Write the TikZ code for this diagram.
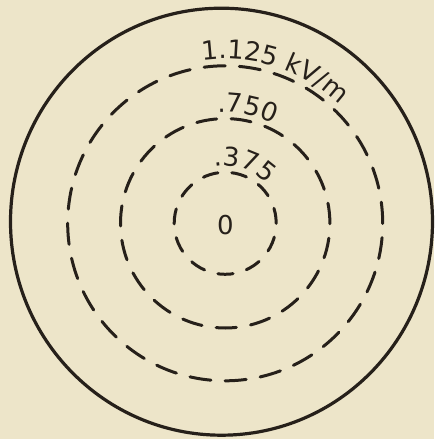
\documentclass[tikz,border=0pt]{standalone}
\usepackage{fontspec}
\usetikzlibrary{decorations.text}
\newfontfamily\labelfont{DejaVu Sans}
\definecolor{paper}{RGB}{237,229,201}
\definecolor{ink}{RGB}{38,32,26}
\begin{document}
\begin{tikzpicture}[
        x=0.5pt, y=0.5pt,
        contour/.style={ink, line width=1.5pt, line cap=round},
        along/.style={decorate, decoration={text along path, text align=center,
            text={|\labelfont\fontsize{13}{13}\selectfont\color{ink}|#1}}},
        ]
        % Background
        \fill[paper] (-225.2,-215.7) rectangle (208.8,223.3);

        % Outer boundary
        \draw[ink, line width=1.6pt] (-3.7,1.6) ellipse [x radius=211, y radius=213.5];

        % Field contours
        \draw[contour, dash pattern=on 7.6pt off 6.96pt] (0,0) circle [radius=51];
        \draw[contour, dash pattern=on 10.1pt off 7.2pt] (0,0) circle [radius=104.7];
        \draw[contour, dash pattern=on 10.6pt off 7.07pt] (0,0) circle [radius=157.5];

        % Labels
        \path[along={.375}] (127:57.5) arc (127:17:57.5);
        \path[along={.750}] (134:111) arc (134:24:111);
        \path[along={1.125 kV/m}] (127:164.5) arc (127:17:164.5);
        \node[ink, font=\labelfont\fontsize{13}{13}\selectfont] (zero) at (0.3,-1.7) {0};

    \end{tikzpicture}
\end{document}
